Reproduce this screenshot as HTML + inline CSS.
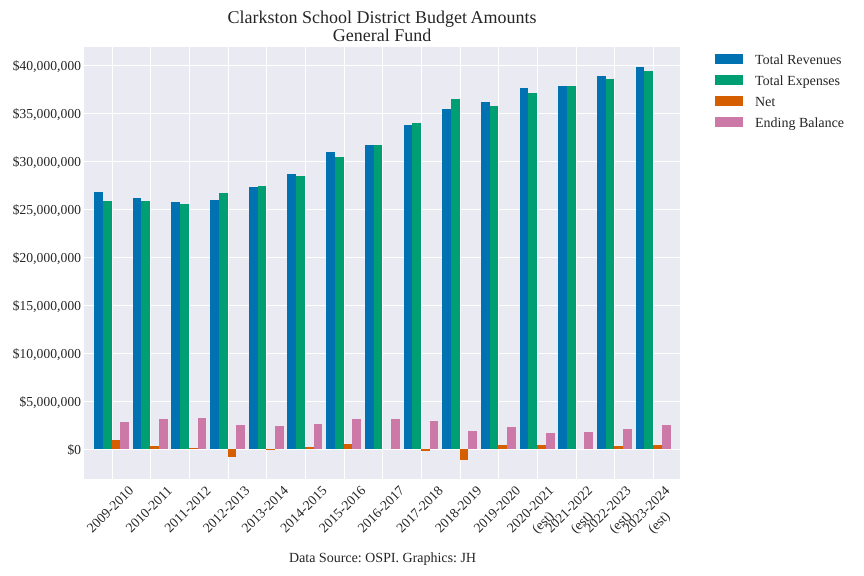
<!DOCTYPE html>
<html>
<head>
<meta charset="utf-8">
<style>
html,body{margin:0;padding:0;background:#fff;}
body{width:864px;height:576px;overflow:hidden;}
svg{display:block;}
text{font-family:"Liberation Serif","DejaVu Serif",serif;fill:#262626;text-rendering:geometricPrecision;}
</style>
</head>
<body>
<svg id="chart" width="864" height="576" viewBox="0 0 864 576" xmlns="http://www.w3.org/2000/svg">
  <text x="382" y="23" text-anchor="middle" font-size="18">Clarkston School District Budget Amounts</text>
  <text x="382" y="41" text-anchor="middle" font-size="18">General Fund</text>
  <rect x="84" y="47" width="596" height="432" fill="#EAEAF2"/>
  <g id="grid"></g>
  <g id="bars"></g>
  <g id="yticks"></g>
  <g id="xticks"></g>
  <g id="legend"></g>
  <text x="382.5" y="562" text-anchor="middle" font-size="14">Data Source: OSPI. Graphics: JH</text>
</svg>
<script>
var categories = ["2009-2010","2010-2011","2011-2012","2012-2013","2013-2014","2014-2015","2015-2016","2016-2017","2017-2018","2018-2019","2019-2020","2020-2021\n(est)","2021-2022\n(est)","2022-2023\n(est)","2023-2024\n(est)"];
var totalRevenues = [26.8,26.2,25.8,26.0,27.35,28.7,31.0,31.7,33.8,35.5,36.2,37.65,37.85,38.9,39.85];
var totalExpenses = [25.9,25.9,25.6,26.7,27.45,28.5,30.5,31.7,34.0,36.5,35.8,37.15,37.85,38.6,39.4];
var netValues = [0.94,0.31,0.1,-0.83,-0.1,0.22,0.52,0,-0.2,-1.15,0.42,0.42,0,0.31,0.42];
var endingBalance = [2.81,3.13,3.23,2.5,2.4,2.6,3.13,3.13,2.92,1.88,2.29,1.67,1.77,2.08,2.5];
var seriesNames = ["Total Revenues","Total Expenses","Net","Ending Balance"];
var seriesColors = ["#0072B2","#009E73","#D55E00","#CC79A7"];
var yTickValues = [0,5,10,15,20,25,30,35,40];
var yTickLabels = ["$0","$5,000,000","$10,000,000","$15,000,000","$20,000,000","$25,000,000","$30,000,000","$35,000,000","$40,000,000"];

var NS = "http://www.w3.org/2000/svg";
var allSeries = [totalRevenues,totalExpenses,netValues,endingBalance];
var plot = {left:84,right:680,top:47,bottom:479};
var barEdges = [-17.52,-8.8,0,8.68,17.4];

function xPos(i){ return 111.58 + i*38.685; }
function yPos(v){ return 449.4 - v*9.6; }
function make(tag,attrs,parent){
  var el = document.createElementNS(NS,tag);
  for (var k in attrs) el.setAttribute(k,attrs[k]);
  parent.appendChild(el);
  return el;
}

var grid = document.getElementById("grid");
yTickValues.forEach(function(v){
  var row = Math.floor(yPos(v));
  var el = make("rect",{x:plot.left,y:row,width:plot.right-plot.left,height:1,fill:"#fff"},grid);
  
  
});
categories.forEach(function(c,i){
  var col = Math.round(xPos(i));
  var el = make("rect",{x:col,y:plot.top,width:1,height:plot.bottom-plot.top,fill:"#fff"},grid);
  
  
});

var bars = document.getElementById("bars");
allSeries.forEach(function(values,s){
  values.forEach(function(v,i){
    var x0 = Math.round(xPos(i) + barEdges[s]);
    var x1 = Math.round(xPos(i) + barEdges[s+1]);
    var y0 = Math.round(yPos(Math.max(v,0)));
    var y1 = Math.round(yPos(Math.min(v,0)));
    var el = make("rect",{x:x0,y:y0,width:x1-x0,height:y1-y0,fill:seriesColors[s]},bars);
    
    
  });
});

var yticks = document.getElementById("yticks");
yTickValues.forEach(function(v,i){
  var el = make("text",{x:81,y:yPos(v)+4.8,"text-anchor":"end","font-size":13.7},yticks);
  el.textContent = yTickLabels[i];
  
  
});

var xticks = document.getElementById("xticks");
categories.forEach(function(c,i){
  var lines = c.split("\n");
  lines.forEach(function(line,j){
    var cx, cy;
    if (lines.length === 1) { cx = xPos(i) - 1.5; cy = 509; }
    else if (j === 0) { cx = xPos(i) - 7; cy = 509; }
    else { cx = xPos(i) + 5.5; cy = 522; }
    var el = make("text",{x:cx,y:cy+4.5,"text-anchor":"middle","font-size":13.7,
      transform:"rotate(-45 "+cx+" "+cy+")"},xticks);
    el.textContent = line;
    
    
  });
});

var legend = document.getElementById("legend");
seriesNames.forEach(function(name,i){
  var top = 54 + i*21;
  var sw = make("rect",{x:715,y:top,width:28,height:10,fill:seriesColors[i]},legend);
  
  
  var t = make("text",{x:755,y:top+10,"font-size":14},legend);
  t.textContent = name;
  
  
});
</script>
</body>
</html>
